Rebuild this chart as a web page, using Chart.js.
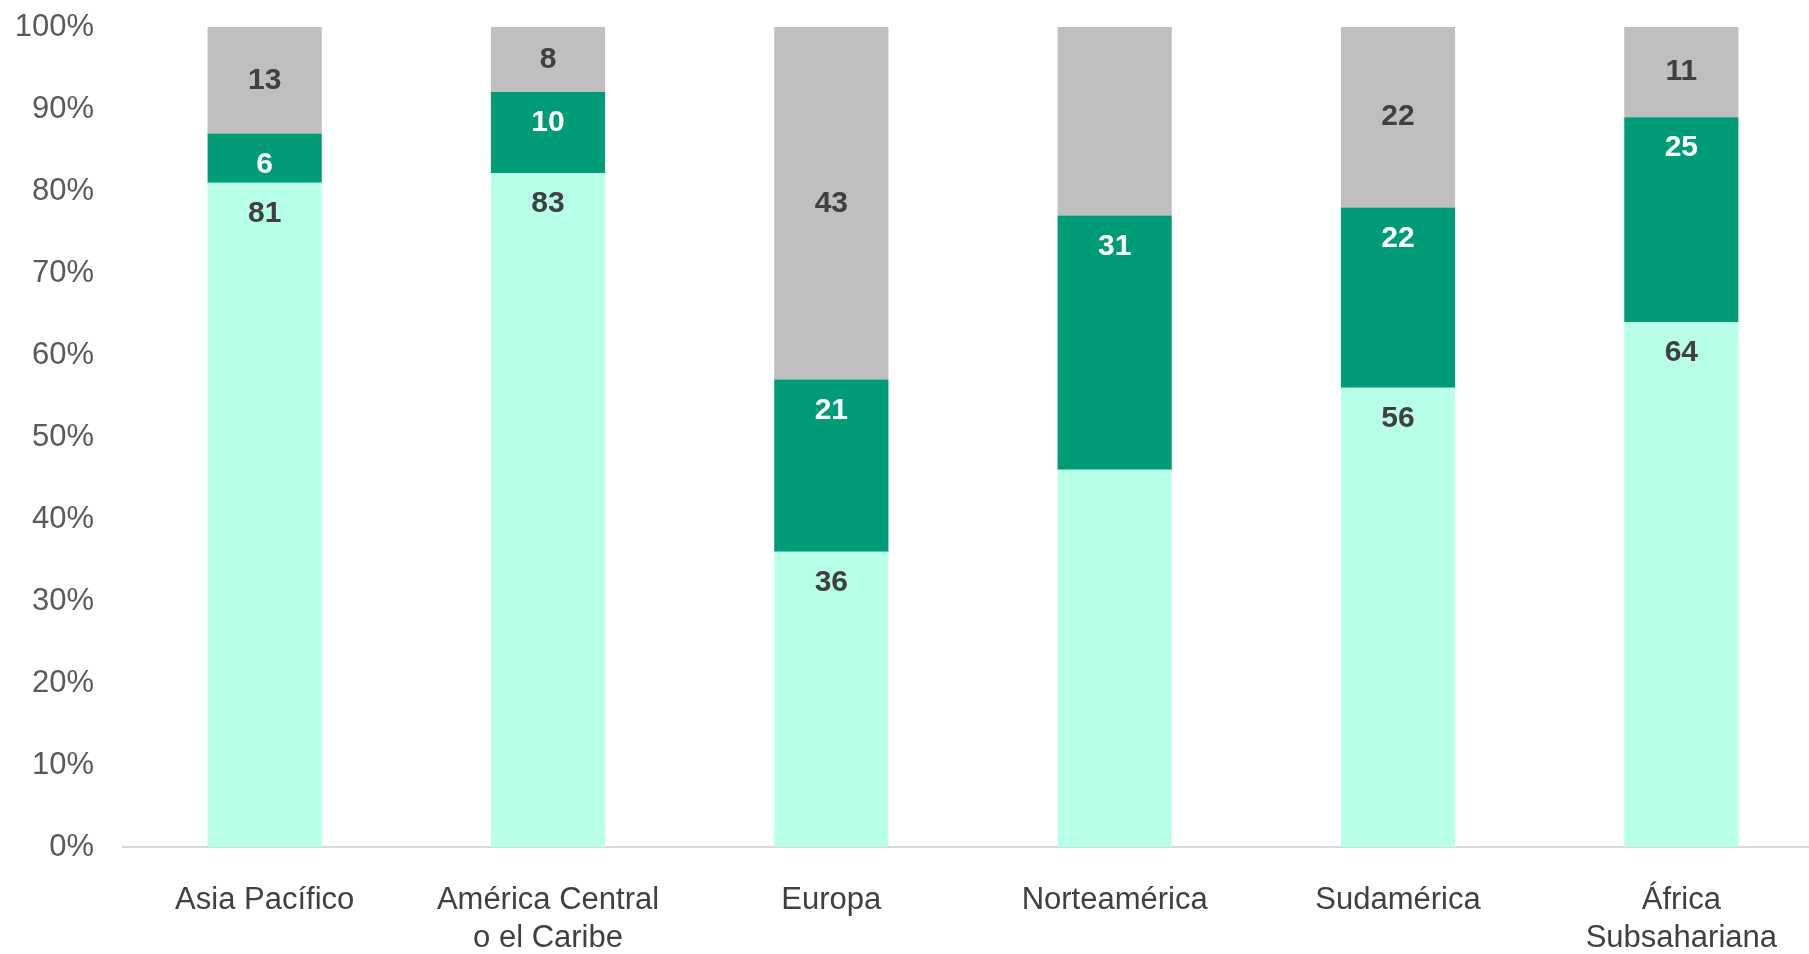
<!DOCTYPE html>
<html lang="es">
<head>
<meta charset="utf-8">
<title>Distribución por región</title>
<script src="https://cdn.jsdelivr.net/npm/chart.js@4.4.1/dist/chart.umd.min.js"></script>
<style>
  html, body { margin: 0; padding: 0; background: #ffffff; overflow: hidden; }
  #wrap { width: 1809px; height: 954px; overflow: hidden; position: relative; }
  canvas { display: block; }
</style>
</head>
<body>
<div id="wrap"><canvas id="chart" width="1823" height="954"></canvas></div>
<script>
// ---- Data ----
const categories = [
  'Asia Pacífico',
  ['América Central', 'o el Caribe'],
  'Europa',
  'Norteamérica',
  'Sudamérica',
  ['África', 'Subsahariana']
];
const seriesBase = [81, 83, 36, 46, 56, 64];   // light mint segment
const seriesMid  = [6, 10, 21, 31, 22, 25];    // green segment
const seriesTop  = [13, 8, 43, 23, 22, 11];    // grey segment
const yTickValues = [0, 10, 20, 30, 40, 50, 60, 70, 80, 90, 100];
// categories whose light and grey segments carry no value label
const unlabeledBaseTop = ['Norteamérica'];

// ---- 100% stacked shares ----
const totals = seriesBase.map((v, i) => v + seriesMid[i] + seriesTop[i]);
const share = arr => arr.map((v, i) => v / totals[i] * 100);

const FONT = "'Liberation Sans', Arial, Helvetica, sans-serif";

const valueLabels = {
  id: 'valueLabels',
  afterDatasetsDraw(chart) {
    const ctx = chart.ctx;
    ctx.save();
    ctx.font = 'bold 30px ' + FONT;
    ctx.textAlign = 'center';
    ctx.textBaseline = 'middle';
    chart.data.datasets.forEach((ds, d) => {
      const meta = chart.getDatasetMeta(d);
      meta.data.forEach((bar, i) => {
        const catName = Array.isArray(categories[i]) ? categories[i].join(' ') : categories[i];
        if (d !== 1 && unlabeledBaseTop.includes(catName)) return;
        const raw = ds.rawValues[i];
        const y = d === 2 ? (bar.y + bar.base) / 2 : bar.y + 31;
        ctx.fillStyle = d === 1 ? '#ffffff' : '#404040';
        ctx.fillText(String(raw), bar.x, y);
      });
    });
    ctx.restore();
  }
};

new Chart(document.getElementById('chart'), {
  type: 'bar',
  data: {
    labels: categories,
    datasets: [
      { label: 'Base', data: share(seriesBase), rawValues: seriesBase, backgroundColor: '#B8FFEA' },
      { label: 'Medio', data: share(seriesMid), rawValues: seriesMid, backgroundColor: '#009B77' },
      { label: 'Resto', data: share(seriesTop), rawValues: seriesTop, backgroundColor: '#BFBFBF' }
    ]
  },
  options: {
    responsive: false,
    animation: false,
    devicePixelRatio: 1,
    layout: { padding: { top: 27, right: 0, bottom: 0, left: 0 } },
    datasets: { bar: { categoryPercentage: 0.403, barPercentage: 1.0, borderWidth: 0 } },
    plugins: {
      legend: { display: false },
      tooltip: { enabled: false },
      title: { display: false }
    },
    scales: {
      x: {
        stacked: true,
        grid: { display: false, drawTicks: false },
        border: { display: true, color: '#D9D9D9', width: 2 },
        ticks: {
          color: '#404040',
          font: { family: FONT, size: 31, lineHeight: 1.22 },
          padding: 35,
          maxRotation: 0,
          autoSkip: false
        },
        afterFit(scale) { scale.height = 107; scale.paddingRight = 0; scale.paddingLeft = 0; }
      },
      y: {
        stacked: true,
        min: 0,
        max: 100,
        grid: { display: false, drawTicks: false },
        border: { display: false },
        afterBuildTicks(scale) { scale.ticks = yTickValues.map(v => ({ value: v })); },
        ticks: {
          color: '#595959',
          font: { family: FONT, size: 31 },
          padding: 29,
          callback: v => v + '%'
        },
        afterFit(scale) { scale.width = 123; scale.paddingTop = 0; scale.paddingBottom = 0; }
      }
    }
  },
  plugins: [valueLabels]
});
</script>
</body>
</html>
